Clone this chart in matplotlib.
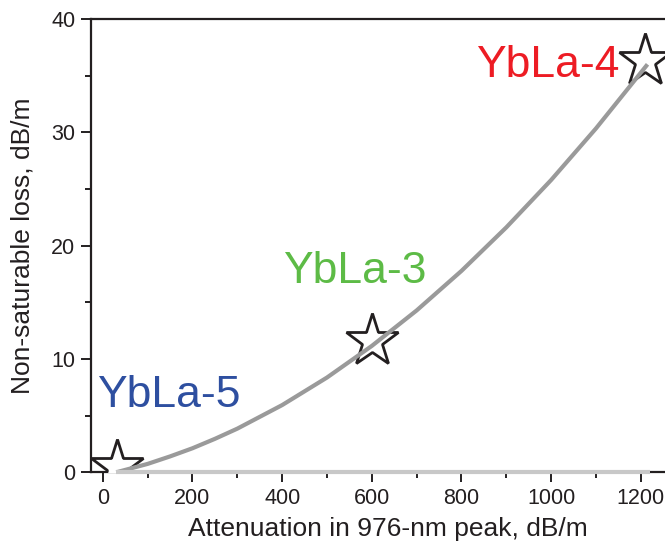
import matplotlib.pyplot as plt
from matplotlib.ticker import MultipleLocator

plt.rcParams['font.family'] = ['Liberation Sans', 'DejaVu Sans']

# measured samples
samples = ['YbLa-5', 'YbLa-3', 'YbLa-4']
atten = [32, 601, 1210]
loss = [0.5, 11.6, 36.3]
sample_colors = ['#2e4fa0', '#5dbb46', '#ed1c24']
label_x = [-13, 402, 833]
label_y = [5.8, 16.7, 34.9]

# fitted trend
fit_x = [30, 100, 150, 200, 250, 300, 400, 500, 600, 700, 800, 900, 1000, 1100, 1215]
fit_y = [0.0, 0.74, 1.40, 2.12, 2.95, 3.85, 5.93, 8.36, 11.15, 14.28, 17.77, 21.61, 25.79, 30.34, 36.0]

# zero line
base_x = [30, 1220]
base_y = [0, 0]

fig = plt.figure(figsize=(6.65, 5.54), dpi=100)
ax = fig.add_axes([0.1364, 0.1475, 0.8946, 0.8182])

ax.plot(atten, loss, linestyle='none', marker='*', markersize=40,
        markerfacecolor='white', markeredgecolor='#231f20',
        markeredgewidth=2.0, zorder=3)
ax.plot(fit_x, fit_y, color='#9a9a9a', linewidth=3, zorder=4,
        solid_capstyle='butt', solid_joinstyle='round')
ax.plot(base_x, base_y, color='#c8c8c8', linewidth=3, zorder=4,
        clip_on=False, solid_capstyle='butt')

for name, c, tx, ty in zip(samples, sample_colors, label_x, label_y):
    ax.text(tx, ty, name, color=c, fontsize=32, ha='left', va='baseline')

ax.set_xlim(-27, 1300)
ax.set_ylim(0, 40)
ax.xaxis.set_major_locator(MultipleLocator(200))
ax.xaxis.set_minor_locator(MultipleLocator(100))
ax.yaxis.set_major_locator(MultipleLocator(10))
ax.yaxis.set_minor_locator(MultipleLocator(5))

for s in ax.spines.values():
    s.set_linewidth(1.6)
    s.set_color('#231f20')

ax.tick_params(which='major', direction='out', length=7, width=1.4,
               labelsize=15.5, colors='#231f20', pad=4)
ax.tick_params(which='minor', direction='out', length=4, width=1.4,
               colors='#231f20')

ax.set_xlabel('Attenuation in 976-nm peak, dB/m', fontsize=19,
              color='#231f20', labelpad=6)
ax.set_ylabel('Non-saturable loss, dB/m', fontsize=19,
              color='#231f20', labelpad=12)

fig.savefig('out.png', dpi=100)
